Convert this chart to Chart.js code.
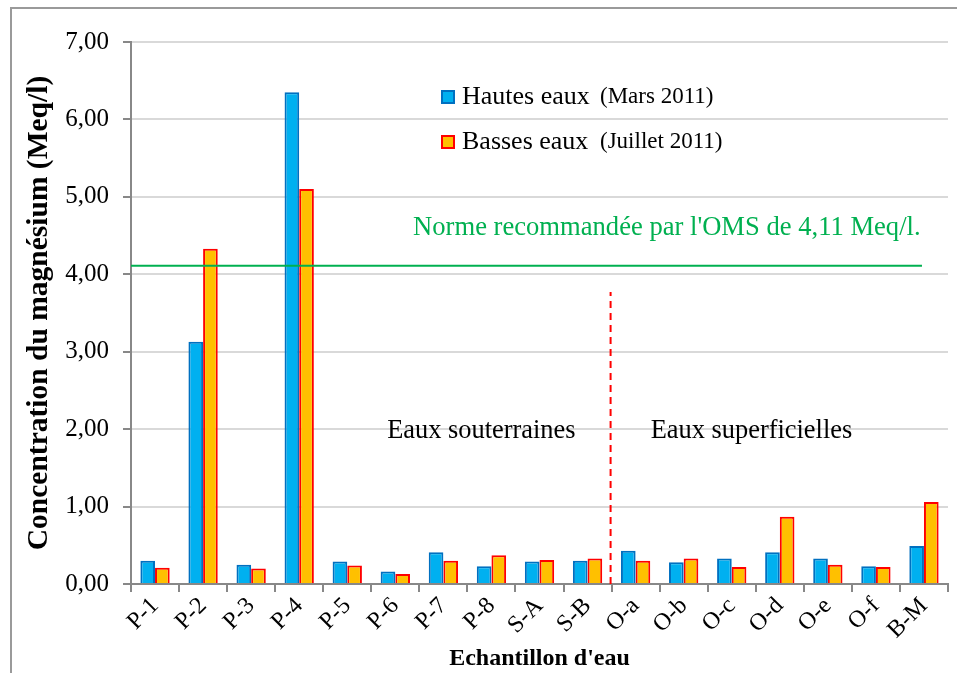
<!DOCTYPE html>
<html>
<head>
<meta charset="utf-8">
<script src="https://cdn.jsdelivr.net/npm/chart.js@4"></script>
<style>
  body { margin: 0; background: #fff; }
  #wrap { position: relative; width: 957px; height: 673px; overflow: hidden; }
  #frame { position: absolute; left: 10px; top: 7px; width: 1000px; height: 700px;
           border-left: 2px solid #9a9a9a; border-top: 2px solid #9a9a9a; }
  canvas { position: absolute; left: 0; top: 0; }
</style>
</head>
<body>
<div id="wrap">
  <div id="frame"></div>
  <canvas id="myChart" width="957" height="673"></canvas>
</div>
<script>
// Magnesium concentration per water sample (Meq/l)
const samples = ['P-1', 'P-2', 'P-3', 'P-4', 'P-5', 'P-6', 'P-7', 'P-8', 'S-A', 'S-B',
                 'O-a', 'O-b', 'O-c', 'O-d', 'O-e', 'O-f', 'B-M'];
const hautesEaux = [0.30, 3.13, 0.25, 6.35, 0.29, 0.16, 0.41, 0.23, 0.29, 0.30,
                    0.43, 0.28, 0.33, 0.41, 0.33, 0.23, 0.49];
const bassesEaux = [0.21, 4.33, 0.20, 5.10, 0.24, 0.13, 0.30, 0.37, 0.31, 0.33,
                    0.30, 0.33, 0.22, 0.87, 0.25, 0.22, 1.06];
const yTicks = [0, 1, 2, 3, 4, 5, 6, 7];

const normeOMS = 4.11;
const separatorIndex = 9.5;   // between S-B and O-a
const separatorTop = 3.77;

const serif = "'Liberation Serif', 'Times New Roman', serif";

// extra drawing: OMS limit, separator, zone labels and legend
const extras = {
  id: 'extras',
  afterDatasetsDraw(chart) {
    const ctx = chart.ctx;
    const x = chart.scales.x, y = chart.scales.y;
    const area = chart.chartArea;
    ctx.save();

    // OMS recommended limit
    const yN = y.getPixelForValue(normeOMS);
    ctx.strokeStyle = '#00B050';
    ctx.lineWidth = 2;
    ctx.beginPath();
    ctx.moveTo(area.left, yN);
    ctx.lineTo(x.getPixelForValue(samples.length - 1) - 2, yN);
    ctx.stroke();

    ctx.fillStyle = '#00B050';
    ctx.font = '26.6px ' + serif;
    ctx.textBaseline = 'middle';
    ctx.textAlign = 'left';
    ctx.fillText("Norme recommandée par l'OMS de 4,11 Meq/l.", x.getPixelForValue(5.37), y.getPixelForValue(4.6));

    // separator between groundwater and surface water
    const xs = x.getPixelForValue(separatorIndex) - 1;
    ctx.strokeStyle = '#FF0000';
    ctx.lineWidth = 2;
    ctx.setLineDash([7, 5]);
    ctx.beginPath();
    ctx.moveTo(xs, y.getPixelForValue(0));
    ctx.lineTo(xs, y.getPixelForValue(separatorTop));
    ctx.stroke();
    ctx.setLineDash([]);

    ctx.fillStyle = '#000';
    ctx.textAlign = 'center';
    ctx.font = '26.4px ' + serif;
    ctx.fillText('Eaux souterraines', x.getPixelForValue(6.79), y.getPixelForValue(1.97));
    ctx.fillText('Eaux superficielles', x.getPixelForValue(12.41), y.getPixelForValue(1.97));

    // legend
    const rows = [
      { main: 'Hautes eaux', sub: '(Mars 2011)', fill: '#00B0F0', border: '#0070C0' },
      { main: 'Basses eaux', sub: '(Juillet 2011)', fill: '#FFC000', border: '#FF0000' }
    ];
    rows.forEach((r, i) => {
      const cy = 97 + i * 45;
      ctx.fillStyle = r.fill;
      ctx.fillRect(442, cy - 6, 12, 12);
      ctx.strokeStyle = r.border;
      ctx.lineWidth = 2;
      ctx.strokeRect(442, cy - 6, 12, 12);
      ctx.fillStyle = '#000';
      ctx.textAlign = 'left';
      ctx.font = '26px ' + serif;
      ctx.fillText(r.main, 462, cy);
      ctx.font = '23px ' + serif;
      ctx.fillText(r.sub, 600, cy);
    });
    ctx.restore();
  }
};

new Chart(document.getElementById('myChart'), {
  type: 'bar',
  data: {
    labels: samples,
    datasets: [
      {
        label: 'Hautes eaux (Mars 2011)',
        data: hautesEaux,
        backgroundColor: '#00B0F0',
        borderColor: '#0070C0',
        borderWidth: 2,
        borderSkipped: 'bottom'
      },
      {
        label: 'Basses eaux (Juillet 2011)',
        data: bassesEaux,
        backgroundColor: '#FFC000',
        borderColor: '#FF0000',
        borderWidth: 2,
        borderSkipped: 'bottom'
      }
    ]
  },
  options: {
    responsive: false,
    animation: false,
    categoryPercentage: 0.61,
    barPercentage: 1.0,
    layout: { padding: { top: 42, right: 9, left: 0, bottom: 0 } },
    plugins: {
      legend: { display: false },
      tooltip: { enabled: false }
    },
    scales: {
      x: {
        afterFit: (s) => { s.height = 89; },
        grid: {
          display: true,
          drawOnChartArea: false,
          offset: true,
          tickLength: 8,
          tickColor: '#888',
          lineWidth: 2
        },
        border: { color: '#888', width: 2 },
        ticks: {
          color: '#000',
          font: { family: serif, size: 24 },
          minRotation: 45,
          maxRotation: 45,
          padding: 0,
          autoSkip: false
        },
        title: {
          display: true,
          text: "Echantillon d'eau",
          color: '#000',
          font: { family: serif, size: 24, weight: 'bold' },
          padding: { top: 0, bottom: 0 }
        }
      },
      y: {
        min: 0,
        max: 7,
        afterFit: (s) => { s.width = 131; },
        afterBuildTicks: (s) => { s.ticks = yTicks.map(v => ({ value: v })); },
        grid: {
          color: '#d9d9d9',
          lineWidth: 2,
          tickLength: 8,
          tickColor: '#888'
        },
        border: { color: '#888', width: 2 },
        ticks: {
          color: '#000',
          font: { family: serif, size: 25 },
          padding: 14,
          callback: (v) => v.toFixed(2).replace('.', ',')
        },
        title: {
          display: true,
          text: 'Concentration du magnésium (Meq/l)',
          color: '#000',
          font: { family: serif, size: 29.5, weight: 'bold' },
          padding: { top: 22, bottom: 0 }
        }
      }
    }
  },
  plugins: [extras]
});
</script>
</body>
</html>
